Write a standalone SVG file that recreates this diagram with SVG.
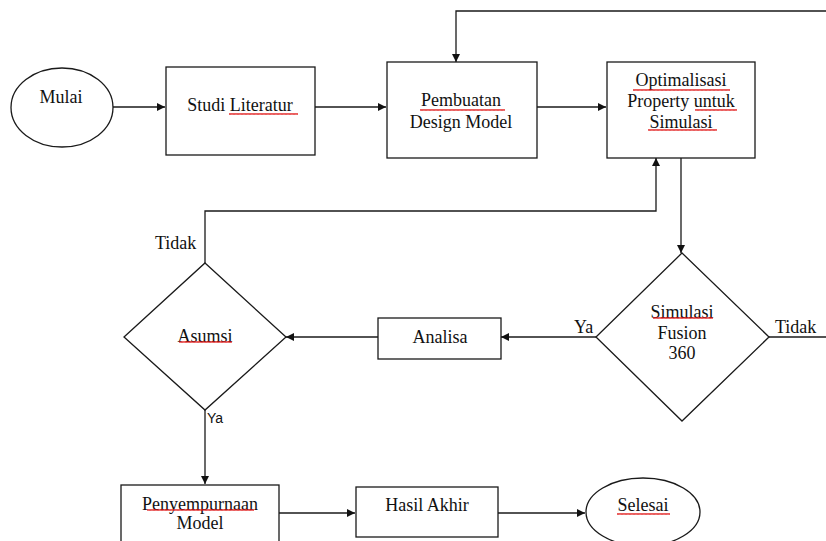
<svg xmlns="http://www.w3.org/2000/svg" width="826" height="541" viewBox="0 0 826 541">
<style>
.s{fill:#fff;stroke:#1a1a1a;stroke-width:1.3}
.c{fill:none;stroke:#1a1a1a;stroke-width:1.3}
.t{font-family:"Liberation Serif","Times New Roman",serif;font-size:18px;fill:#111;text-anchor:middle}
.l{font-family:"Liberation Serif","Times New Roman",serif;font-size:18px;fill:#111}
.y{font-family:"Liberation Sans",Arial,sans-serif;font-size:14px;fill:#111}
.sq{fill:url(#wave)}
</style>
<defs>
<marker id="ah" viewBox="0 0 10 10" refX="10" refY="5" markerWidth="9" markerHeight="8" markerUnits="userSpaceOnUse" orient="auto">
<path d="M0,0 L10,5 L0,10 z" fill="#111"/>
</marker>
<pattern id="wave" width="4" height="4" patternUnits="userSpaceOnUse">
<path d="M0,3 L1,1 L2,3 L3,1 L4,3" fill="none" stroke="#e01010" stroke-width="0.8"/>
</pattern>
</defs>
<rect width="826" height="541" fill="#fff"/>
<g id="connectors">
<path class="c" d="M113,107 H165" marker-end="url(#ah)"/>
<path class="c" d="M315,107 H386" marker-end="url(#ah)"/>
<path class="c" d="M535,107 H606" marker-end="url(#ah)"/>
<path class="c" d="M826,11 H456 V62" marker-end="url(#ah)"/>
<path class="c" d="M681,158 V253" marker-end="url(#ah)"/>
<path class="c" d="M205,263 V211 H656 V158" marker-end="url(#ah)"/>
<path class="c" d="M769,337 H826"/>
<path class="c" d="M596,337 H501" marker-end="url(#ah)"/>
<path class="c" d="M378,337 H286" marker-end="url(#ah)"/>
<path class="c" d="M205,410 V484" marker-end="url(#ah)"/>
<path class="c" d="M279,513 H355" marker-end="url(#ah)"/>
<path class="c" d="M498,513 H585" marker-end="url(#ah)"/>
<text class="l" x="155" y="249">Tidak</text>
<text class="y" x="207" y="423">Ya</text>
<text class="l" x="574" y="333">Ya</text>
<text class="l" x="775" y="333">Tidak</text>
</g>
<g id="mulai">
<ellipse class="s" cx="62" cy="107.5" rx="51" ry="39.5"/>
<text class="t" x="61" y="103">Mulai</text>
</g>
<g id="studi">
<rect class="s" x="166" y="67" width="149" height="88"/>
<text class="t" x="240" y="111">Studi Literatur</text>
<rect class="sq" x="229" y="112" width="69" height="4"/>
</g>
<g id="pembuatan">
<rect class="s" x="387" y="62" width="150" height="96"/>
<text class="t" x="461" y="106">Pembuatan</text>
<text class="t" x="461" y="128">Design Model</text>
<rect class="sq" x="420" y="108" width="85" height="4"/>
</g>
<g id="optimalisasi">
<rect class="s" x="607" y="62" width="148" height="96"/>
<text class="t" x="681" y="86">Optimalisasi</text>
<text class="t" x="681" y="107">Property untuk</text>
<text class="t" x="681" y="128">Simulasi</text>
<rect class="sq" x="633" y="88" width="97" height="4"/>
<rect class="sq" x="695" y="108" width="42" height="4"/>
<rect class="sq" x="648" y="128" width="69" height="4"/>
</g>
<g id="simulasi">
<polygon class="s" points="682,253 769,337 682,421 596,337"/>
<text class="t" x="682" y="318">Simulasi</text>
<text class="t" x="682" y="339">Fusion</text>
<text class="t" x="682" y="359">360</text>
<rect class="sq" x="653" y="316" width="60" height="4"/>
</g>
<g id="analisa">
<rect class="s" x="378" y="318" width="123" height="41"/>
<text class="t" x="440" y="343">Analisa</text>
</g>
<g id="asumsi">
<polygon class="s" points="205,263 286,337 205,410 124,337"/>
<text class="t" x="205" y="342">Asumsi</text>
<rect class="sq" x="179" y="340" width="53" height="4"/>
</g>
<g id="penyempurnaan">
<rect class="s" x="121" y="485" width="158" height="62"/>
<text class="t" x="200" y="510">Penyempurnaan</text>
<text class="t" x="200" y="529">Model</text>
<rect class="sq" x="147" y="508" width="107" height="4"/>
</g>
<g id="hasil">
<rect class="s" x="356" y="487" width="142" height="50"/>
<text class="t" x="427" y="511">Hasil Akhir</text>
</g>
<g id="selesai">
<ellipse class="s" cx="643" cy="512" rx="57" ry="34"/>
<text class="t" x="643" y="511">Selesai</text>
<rect class="sq" x="617" y="512" width="53" height="4"/>
</g>
</svg>
